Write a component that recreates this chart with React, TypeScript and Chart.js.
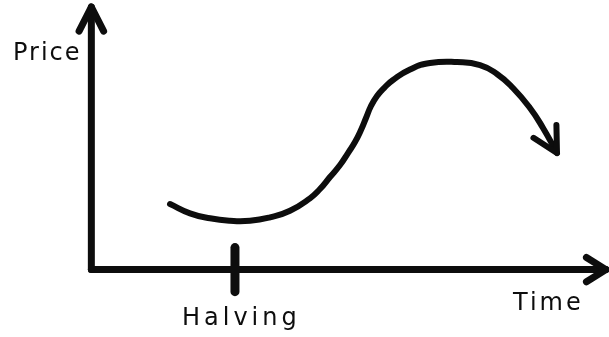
import React, { useEffect, useRef } from "react";
import { Chart, registerables } from "chart.js";

Chart.register(...registerables);

// Price path over time (abstract units: time 0–100, price 0–100)
const curveTime = [
  15.5, 19.44, 23.38, 27.32, 31.26, 35.2, 39.14, 43.08, 45.05, 47.02, 49.0, 50.57, 51.95,
  53.13, 54.12, 55.1, 56.29, 57.67, 59.44, 62.79, 66.73, 72.05, 76.58, 79.93, 83.08, 86.43,
  89.0, 91.75,
];
const curvePrice = [
  25.3, 21.71, 19.78, 18.85, 18.85, 20.17, 22.71, 27.5, 31.08, 35.71, 40.34, 44.97, 49.22,
  53.85, 58.48, 63.1, 66.96, 70.05, 73.14, 77.19, 79.69, 80.08, 78.92, 75.45, 70.05, 62.33,
  54.62, 44.97,
];

// Axis extents
const priceAxisTop = 101.3;
const timeAxisEnd = 101.4;

// Halving event marker on the time axis
const halvingTime = 28.3;
const halvingTickHalf = [-8.5, 8.5];

// Text labels
const priceLabel = "Price";
const timeLabel = "Time";
const halvingLabel = "Halving";

const INK = "#0d0d0d";
const FONT = '24px "DejaVu Sans"';

type Arrow = { len: number; half: number };

const arrowPlugin = {
  id: "arrowHeads",
  afterDatasetsDraw(chart: any) {
    const ctx: CanvasRenderingContext2D = chart.ctx;
    chart.data.datasets.forEach((ds: any, i: number) => {
      const arrow: Arrow | undefined = ds.arrow;
      if (!arrow) return;
      const pts = chart.getDatasetMeta(i).data;
      const tip = pts[pts.length - 1];
      const prev = pts[pts.length - 2];
      let fx = prev.x;
      let fy = prev.y;
      if (tip.cp1x !== undefined && Math.hypot(tip.cp1x - tip.x, tip.cp1y - tip.y) > 0.5) {
        fx = tip.cp1x;
        fy = tip.cp1y;
      }
      const back = Math.atan2(fy - tip.y, fx - tip.x);
      const h = (arrow.half * Math.PI) / 180;
      ctx.save();
      ctx.strokeStyle = ds.borderColor;
      ctx.lineWidth = ds.borderWidth;
      ctx.lineCap = "round";
      ctx.lineJoin = "round";
      ctx.beginPath();
      ctx.moveTo(tip.x + arrow.len * Math.cos(back + h), tip.y + arrow.len * Math.sin(back + h));
      ctx.lineTo(tip.x, tip.y);
      ctx.lineTo(tip.x + arrow.len * Math.cos(back - h), tip.y + arrow.len * Math.sin(back - h));
      ctx.stroke();
      ctx.restore();
    });
  },
};

const labelPlugin = {
  id: "sketchLabels",
  afterDraw(chart: any) {
    const ctx: any = chart.ctx;
    const xs = chart.scales.x;
    const ys = chart.scales.y;
    const oy = ys.getPixelForValue(0);
    ctx.save();
    ctx.fillStyle = INK;
    ctx.font = FONT;
    ctx.textBaseline = "alphabetic";
    ctx.textAlign = "left";
    ctx.letterSpacing = "2px";
    ctx.fillText(priceLabel, 13, ys.getPixelForValue(priceAxisTop) + 53);
    ctx.letterSpacing = "3px";
    ctx.fillText(timeLabel, xs.getPixelForValue(timeAxisEnd) - 93, oy + 40);
    ctx.letterSpacing = "4px";
    ctx.fillText(halvingLabel, xs.getPixelForValue(halvingTime) - 53, oy + 55);
    ctx.restore();
  },
};

export default function App() {
  const ref = useRef<HTMLCanvasElement | null>(null);

  useEffect(() => {
    if (!ref.current) return;
    const curve = curveTime.map((t, i) => ({ x: t, y: curvePrice[i] }));
    const chart = new Chart(ref.current, {
      type: "line",
      data: {
        datasets: [
          {
            label: "Price axis",
            data: [
              { x: 0, y: 0 },
              { x: 0, y: priceAxisTop },
            ],
            borderColor: INK,
            borderWidth: 7,
            borderCapStyle: "round",
            borderJoinStyle: "round",
            tension: 0,
            arrow: { len: 27, half: 27 },
          } as any,
          {
            label: "Time axis",
            data: [
              { x: 0, y: 0 },
              { x: timeAxisEnd, y: 0 },
            ],
            borderColor: INK,
            borderWidth: 7,
            borderCapStyle: "round",
            tension: 0,
            arrow: { len: 23, half: 32 },
          } as any,
          {
            label: halvingLabel,
            data: halvingTickHalf.map((v) => ({ x: halvingTime, y: v })),
            borderColor: INK,
            borderWidth: 9,
            borderCapStyle: "round",
            tension: 0,
          } as any,
          {
            label: "Price path",
            data: curve,
            borderColor: INK,
            borderWidth: 6,
            borderCapStyle: "round",
            borderJoinStyle: "round",
            tension: 0.5,
            arrow: { len: 28, half: 28 },
          } as any,
        ],
      },
      options: {
        animation: false,
        responsive: false,
        devicePixelRatio: 1,
        layout: { padding: 0 },
        elements: { point: { radius: 0, hoverRadius: 0 } },
        scales: {
          x: { type: "linear", min: -18, max: 102, display: false },
          y: { type: "linear", min: -26, max: 104, display: false },
        },
        plugins: {
          legend: { display: false },
          tooltip: { enabled: false },
        },
      },
      plugins: [arrowPlugin, labelPlugin],
    });
    return () => chart.destroy();
  }, []);

  return (
    <div style={{ position: "fixed", left: 0, top: 0, width: 609, height: 337, background: "#fff" }}>
      <canvas ref={ref} width={609} height={337} />
    </div>
  );
}
